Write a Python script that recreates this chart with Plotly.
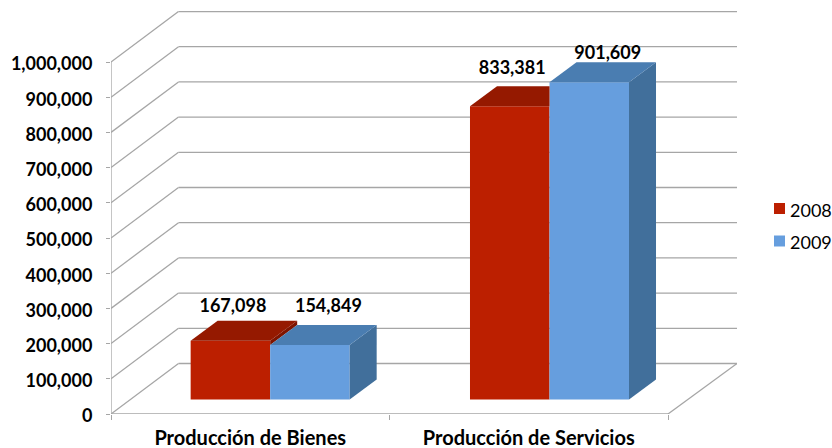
import plotly.graph_objects as go

CATEGORIES = ["Producción de Bienes", "Producción de Servicios"]
SERIES = ["2008", "2009"]
VALUES_2008 = [167098, 833381]
VALUES_2009 = [154849, 901609]
Y_TICKS = [0, 100000, 200000, 300000, 400000, 500000, 600000, 700000, 800000, 900000, 1000000]
LABEL_LIFT_PX = {"2008": [33.5, 36.5], "2009": [37, 27.5]}
LABEL_SHIFT_PX = {"2008": 2.5, "2009": 18.5}

FONT = "Lato"
GRID = "#A6A6A6"
COLORS = {"2008": dict(front="#BC1F00", top="#951900", side="#7E1400"),
          "2009": dict(front="#669EDE", top="#4A7DB1", side="#416F9B")}

# plot-area scale: one category = 278.5 px, 1,000,000 = 352 px
PX_X = 278.5
PX_Y = 352 / 1e6
DEPTH_X = 67.5 / PX_X
DEPTH_Y = 50.5 / PX_Y
X_END = 626 / PX_X
Y_END = 403 / PX_Y
BAR_W = 0.2855
BAR_DX = 27 / PX_X
BAR_DY = 20 / PX_Y
BASE = 14.5 / PX_Y
LEFTS = [0.286, 1.289]

fig = go.Figure()

# walls and floor
def line(x0, y0, x1, y1):
    fig.add_shape(type="line", xref="x", yref="y", x0=x0, y0=y0, x1=x1, y1=y1,
                  layer="below", line=dict(color=GRID, width=1.3))

for t in Y_TICKS:
    line(0, t, DEPTH_X, t + DEPTH_Y)
    line(DEPTH_X, t + DEPTH_Y, X_END, t + DEPTH_Y)
line(0, 0, 0, Y_TICKS[-1])
line(0, 0, len(CATEGORIES), 0)
line(len(CATEGORIES), 0, X_END, DEPTH_Y)

data = {"2008": VALUES_2008, "2009": VALUES_2009}

# front faces
for k, s in enumerate(SERIES):
    fig.add_trace(go.Bar(
        x=[l + BAR_W * (k + 0.5) for l in LEFTS],
        y=data[s], base=[BASE] * len(LEFTS), width=BAR_W, name=s,
        marker=dict(color=COLORS[s]["front"], line=dict(width=0)),
        showlegend=False, hoverinfo="y"))

def poly(xs, ys, color):
    fig.add_trace(go.Scatter(x=xs, y=ys, mode="lines", fill="toself", fillcolor=color,
                             line=dict(width=0, color=color), hoverinfo="skip",
                             showlegend=False))

# top and side faces, hiding what the neighbouring bar covers
for i, l in enumerate(LEFTS):
    v08, v09 = VALUES_2008[i] + BASE, VALUES_2009[i] + BASE
    x0, x1, x2 = l, l + BAR_W, l + 2 * BAR_W
    c08, c09 = COLORS["2008"], COLORS["2009"]
    if v08 > v09:
        poly([x1, x1 + BAR_DX, x1 + BAR_DX, x1],
             [v08, v08 + BAR_DY, v09 + BAR_DY, v09], c08["side"])
        poly([x0, x0 + BAR_DX, x1 + BAR_DX, x1],
             [v08, v08 + BAR_DY, v08 + BAR_DY, v08], c08["top"])
    else:
        poly([x0, x0 + BAR_DX, x1, x1],
             [v08, v08 + BAR_DY, v08 + BAR_DY, v08], c08["top"])
    poly([x2, x2 + BAR_DX, x2 + BAR_DX, x2],
         [BASE, BASE + BAR_DY, v09 + BAR_DY, v09], c09["side"])
    poly([x1, x1 + BAR_DX, x2 + BAR_DX, x2],
         [v09, v09 + BAR_DY, v09 + BAR_DY, v09], c09["top"])

# data labels
for k, s in enumerate(SERIES):
    fig.add_trace(go.Scatter(
        x=[l + BAR_W * (k + 0.5) + LABEL_SHIFT_PX[s] / PX_X for l in LEFTS],
        y=[v + BASE + n / PX_Y for v, n in zip(data[s], LABEL_LIFT_PX[s])],
        mode="text", text=[f"{v:,}" for v in data[s]],
        textfont=dict(family=FONT, size=18, color="#000000", weight="bold"),
        textposition="middle center", showlegend=False, hoverinfo="skip", cliponaxis=False))

fig.update_xaxes(range=[0, X_END], tickvals=[0.5, 1.5], ticktext=CATEGORIES, ticks="",
                 showgrid=False, zeroline=False, showline=False, ticklabelstandoff=10,
                 automargin=False,
                 tickfont=dict(family=FONT, size=20, color="#000000", weight="bold"),
                 minor=dict(tickvals=[0, 1, 2], ticks="outside", ticklen=5, tickcolor=GRID, tickwidth=1.3, showgrid=False))
fig.update_yaxes(range=[0, Y_END], tickvals=Y_TICKS, tickformat=",d", ticks="outside", ticklen=4,
                 tickcolor=GRID, tickwidth=1.3, showgrid=False, zeroline=False, showline=False,
                 ticklabelstandoff=10, ticklabelshift=2, automargin=False,
                 tickfont=dict(family=FONT, size=18, color="#000000", weight="bold"))

# legend (swatch sits closer to its text than a native legend allows)
for s, ycen in zip(SERIES, [208.5, 241]):
    yp = (414 - ycen) / 403
    xp0 = (774 - 111) / 626
    xp1 = (785 - 111) / 626
    fig.add_shape(type="rect", xref="paper", yref="paper", x0=xp0, x1=xp1,
                  y0=yp - 5.5 / 403, y1=yp + 5.5 / 403, fillcolor=COLORS[s]["front"], line=dict(width=0))
    fig.add_annotation(xref="paper", yref="paper", x=(788 - 111) / 626, y=yp, yshift=-1, text=s, showarrow=False,
                       xanchor="left", yanchor="middle",
                       font=dict(family=FONT, size=18, color="#000000"))

fig.update_layout(width=832, height=448, margin=dict(l=111, r=95, t=11, b=34), autosize=False,
                  paper_bgcolor="white", plot_bgcolor="white", barmode="overlay", showlegend=False)
fig.write_html("out.html", config={"displayModeBar": False},
               post_script="document.body.style.margin='0';document.documentElement.style.overflow='hidden';")
